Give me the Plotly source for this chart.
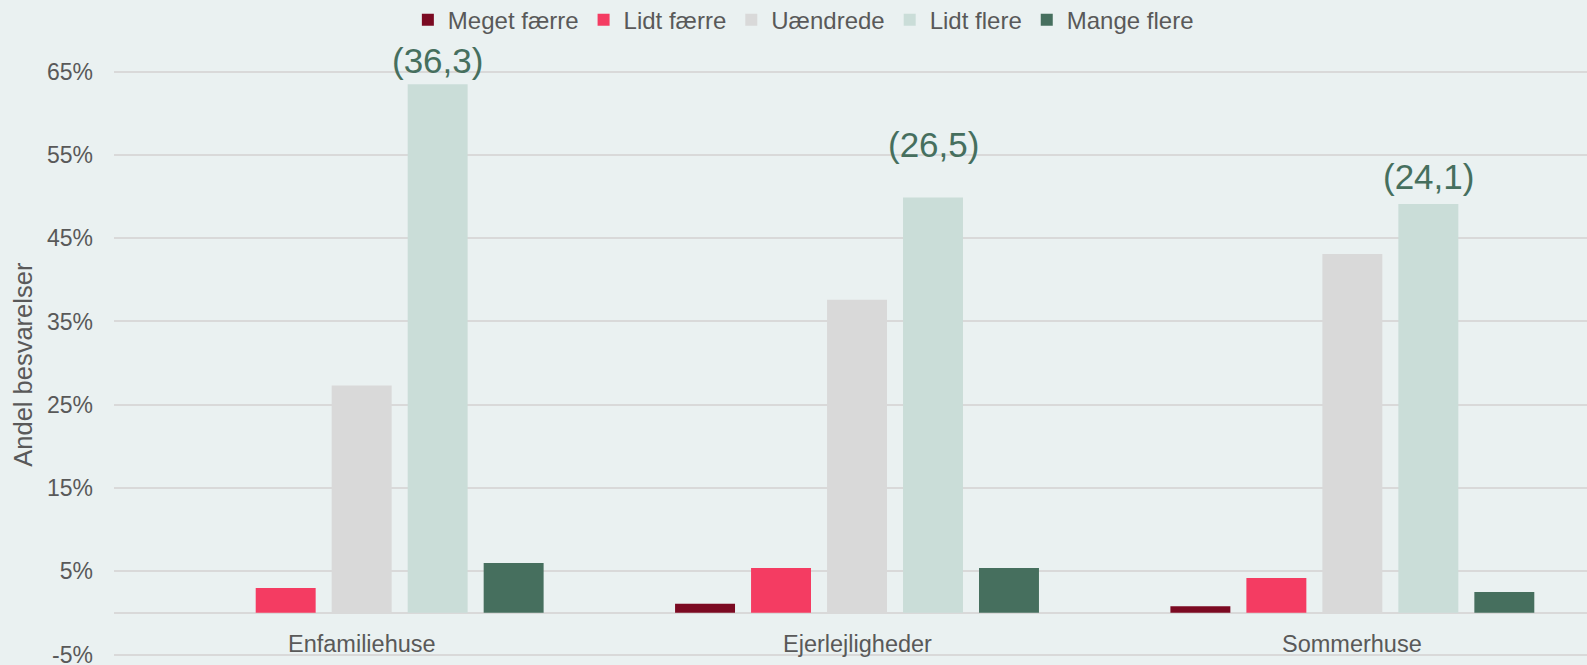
import plotly.graph_objects as go

categories = ["Enfamiliehuse", "Ejerlejligheder", "Sommerhuse"]
series_names = ["Meget færre", "Lidt færre", "Uændrede", "Lidt flere", "Mange flere"]
meget_faerre = [0.0, 1.1, 0.8]
lidt_faerre = [3.0, 5.4, 4.2]
uaendrede = [27.3, 37.6, 43.1]
lidt_flere = [63.5, 49.9, 49.1]
mange_flere = [6.0, 5.4, 2.5]
net_labels = ["(36,3)", "(26,5)", "(24,1)"]
net_label_y = [66.4, 56.2, 52.4]
tick_vals = [-5, 5, 15, 25, 35, 45, 55, 65]
tick_text = ["-5%", "5%", "15%", "25%", "35%", "45%", "55%", "65%"]

colors = ["#7B0A22", "#F43C62", "#D9D9D9", "#CADDD8", "#466F5E"]
all_values = [meget_faerre, lidt_faerre, uaendrede, lidt_flere, mange_flere]

FONT = "Liberation Sans, Arial, sans-serif"
TXT = "#595959"
BG = "#EAF1F1"
GRID = "#D9D9D9"

fig = go.Figure()
for name, vals, col in zip(series_names, all_values, colors):
    fig.add_trace(go.Bar(
        x=categories, y=vals, name=name,
        marker=dict(color=col, line=dict(width=0)),
    ))

annotations = []
for cat, txt, yv in zip(categories, net_labels, net_label_y):
    annotations.append(dict(
        x=cat, y=yv, xref="x", yref="y", text=txt, showarrow=False,
        xshift=76, font=dict(family=FONT, size=35, color="#466F5E"),
        xanchor="center", yanchor="middle",
    ))
for cat in categories:
    annotations.append(dict(
        x=cat, y=-3.75, xref="x", yref="y", text=cat, showarrow=False,
        font=dict(family=FONT, size=23.5, color=TXT),
        xanchor="center", yanchor="middle",
    ))
annotations.append(dict(
    x=0, xref="paper", y=29.8, yref="y", text="Andel besvarelser",
    showarrow=False, textangle=-90, xshift=-91,
    font=dict(family=FONT, size=25.5, color=TXT),
    xanchor="center", yanchor="middle",
))

fig.update_layout(
    width=1587, height=665,
    margin=dict(l=114, r=0, t=55, b=7.5, autoexpand=False),
    paper_bgcolor=BG, plot_bgcolor=BG,
    barmode="group", bargap=0.233, bargroupgap=0.211,
    font=dict(family=FONT, color=TXT),
    showlegend=True,
    legend=dict(
        orientation="h", x=0.468, xanchor="center", y=1.058, yanchor="middle",
        font=dict(family=FONT, size=24, color=TXT),
        bgcolor="rgba(0,0,0,0)", itemwidth=30, traceorder="normal",
    ),
    annotations=annotations,
)
fig.update_xaxes(
    type="category", range=[-0.5, 2.4737], showticklabels=False,
    showgrid=False, zeroline=False, showline=False, automargin=False,
)
fig.update_yaxes(
    range=[-5.3, 67], tickvals=tick_vals, ticktext=tick_text,
    tickfont=dict(family=FONT, size=23, color=TXT),
    showgrid=True, gridcolor=GRID, gridwidth=1.5,
    zeroline=True, zerolinecolor=GRID, zerolinewidth=1.5,
    showline=False, ticklabelstandoff=20, ticklabeloverflow="allow",
    automargin=False,
)

fig.write_html(
    "out.html",
    config={"displayModeBar": False},
    post_script=(
        "document.body.style.margin='0';"
        "document.body.style.overflow='hidden';"
        "document.body.style.background='" + BG + "';"
    ),
)
